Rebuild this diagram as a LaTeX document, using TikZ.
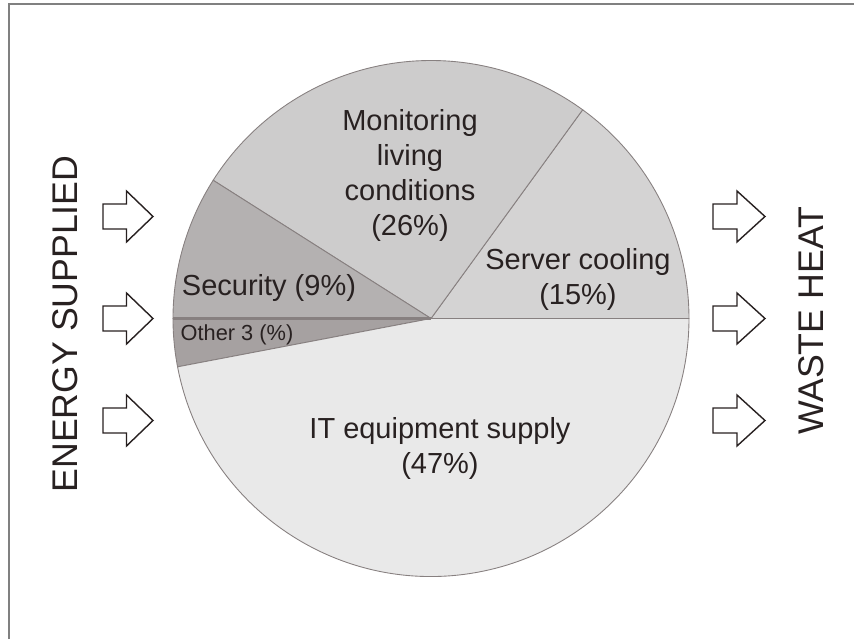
\documentclass[tikz,border=0pt]{standalone}
\usepackage{fontspec}
\setmainfont{Liberation Sans}
\definecolor{sliceMon}{RGB}{205,204,204}
\definecolor{sliceSrv}{RGB}{212,211,211}
\definecolor{sliceSec}{RGB}{180,177,177}
\definecolor{sliceOth}{RGB}{166,161,161}
\definecolor{sliceIT}{RGB}{233,233,233}
\definecolor{edgegray}{RGB}{135,128,128}
\definecolor{inkgray}{RGB}{40,33,33}
\begin{document}
\begin{tikzpicture}[
    slice/.style={draw=edgegray, line width=0.5pt},
    pielabel/.style={align=center, text=inkgray, font=\fontsize{16.5}{19.8}\selectfont},
    sidelabel/.style={rotate=90, text=inkgray, font=\fontsize{20.3}{24}\selectfont},
    openarrow/.style={draw=inkgray, line width=0.8pt, fill=white, line join=miter}
]
    \useasboundingbox (-8.62,-6.41) rectangle (8.46,6.37);

    % 外框(右边和下边被裁掉)
    \draw[gray, line width=0.7pt] (-8.44,-6.41) |- (8.46,6.29);

    % 绘制饼图的五个扇区
    \filldraw[slice, fill=sliceSrv] (0,0) -- (0:5.16) arc (0:54:5.16) -- cycle; % 服务器冷却
    \filldraw[slice, fill=sliceMon] (0,0) -- (54:5.16) arc (54:147.6:5.16) -- cycle; % 监测
    \filldraw[slice, fill=sliceSec] (0,0) -- (147.6:5.16) arc (147.6:180:5.16) -- cycle; % 安全
    \filldraw[slice, fill=sliceOth] (0,0) -- (180:5.16) arc (180:190.8:5.16) -- cycle; % 其他
    \filldraw[slice, fill=sliceIT] (0,0) -- (190.8:5.16) arc (190.8:360:5.16) -- cycle; % IT 设备
    \draw[edgegray, line width=1.2pt] (0,0) -- (180:5.16);

    % 扇区标签
    \node[pielabel] (mon) at (-0.42,2.86) {Monitoring\\living\\conditions\\(26\%)};
    \node[pielabel] (srv) at (2.94,0.78) {Server cooling\\(15\%)};
    \node[pielabel] (sec) at (-3.24,0.61) {Security (9\%)};
    \node[pielabel, font=\fontsize{12.4}{14}\selectfont] (oth) at (-3.88,-0.33) {Other 3 (\%)};
    \node[pielabel] (it) at (0.18,-2.6) {IT equipment supply\\(47\%)};

    % 左右两侧的空心箭头
    \foreach \y in {2.04,0,-2.04} {
        \draw[openarrow] (-6.56,\y+0.25) -- (-6.09,\y+0.25) -- (-6.09,\y+0.51) -- (-5.56,\y)
            -- (-6.09,\y-0.51) -- (-6.09,\y-0.25) -- (-6.56,\y-0.25) -- cycle; % 输入
        \draw[openarrow] (5.64,\y+0.25) -- (6.12,\y+0.25) -- (6.12,\y+0.51) -- (6.68,\y)
            -- (6.12,\y-0.51) -- (6.12,\y-0.25) -- (5.64,\y-0.25) -- cycle; % 输出
    }

    % 两侧竖排文字
    \node[sidelabel] (energy) at (-7.32,-0.11) {ENERGY SUPPLIED};
    \node[sidelabel] (waste) at (7.6,-0.05) {WASTE HEAT};

\end{tikzpicture}
\end{document}
